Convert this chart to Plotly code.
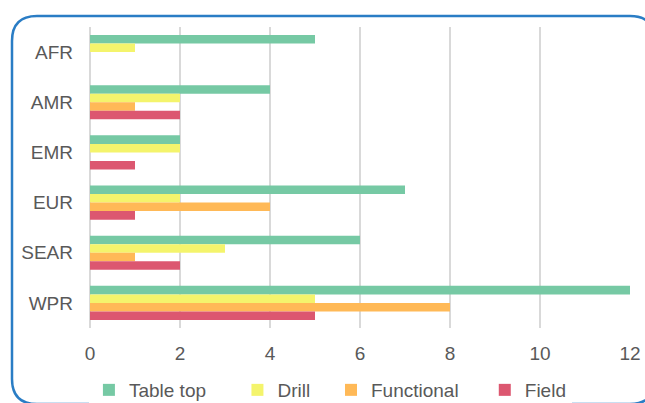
import plotly.graph_objects as go

regions = ["AFR", "AMR", "EMR", "EUR", "SEAR", "WPR"]
series_names = ["Table top", "Drill", "Functional", "Field"]
table_top = [5, 4, 2, 7, 6, 12]
drill = [1, 2, 2, 2, 3, 5]
functional = [0, 1, 0, 4, 1, 8]
field = [0, 2, 1, 1, 2, 5]
x_ticks = [0, 2, 4, 6, 8, 10, 12]

colors = ["#76C9A4", "#F4F46C", "#FFB957", "#DC5770"]
pad = ["\u00a0" * 5, "\u00a0" * 3, "\u00a0" * 4, ""]

W, H = 645, 403
L, R, T, B = 90, 15, 27, 75
pw, ph = W - L - R, H - T - B

fig = go.Figure()
for name, vals, c, p in zip(series_names, [table_top, drill, functional, field], colors, pad):
    fig.add_trace(go.Bar(
        y=regions, x=vals, name=name + p, orientation="h",
        marker=dict(color=c, line=dict(width=0)),
    ))

def px2paper(x, y):
    return (x - L) / pw, (H - B - y) / ph

x0, y0, x1, y1, r = 12, 16, 655, 404, 25
pts = [
    ("M", [(x0 + r, y0)]),
    ("L", [(x1 - r, y0)]),
    ("Q", [(x1, y0), (x1, y0 + r)]),
    ("L", [(x1, y1 - r)]),
    ("Q", [(x1, y1), (x1 - r, y1)]),
    ("L", [(x0 + r, y1)]),
    ("Q", [(x0, y1), (x0, y1 - r)]),
    ("L", [(x0, y0 + r)]),
    ("Q", [(x0, y0), (x0 + r, y0)]),
]
path = ""
for cmd, ps in pts:
    path += cmd + " ".join("%.5f,%.5f" % px2paper(a, b) for a, b in ps) + " "
path += "Z"

fig.update_layout(
    width=W, height=H,
    margin=dict(l=L, r=R, t=T, b=B, autoexpand=False),
    paper_bgcolor="white", plot_bgcolor="white",
    barmode="group", bargap=0.32, bargroupgap=0,
    font=dict(family="Liberation Sans, Arial, sans-serif", size=19, color="#595959"),
    showlegend=True,
    legend=dict(orientation="h", x=-0.002, xanchor="left", y=-0.206, yanchor="middle",
                font=dict(size=19, color="#595959"), traceorder="normal",
                itemwidth=30, tracegroupgap=0),
    shapes=[dict(type="path", xref="paper", yref="paper", path=path,
                 line=dict(color="#2A7DC5", width=2.5), fillcolor="rgba(0,0,0,0)", layer="above")],
)
fig.update_xaxes(range=[0, 12], tickvals=x_ticks, showgrid=True, gridcolor="#D9D9D9",
                 gridwidth=1.5, zeroline=True, zerolinecolor="#D9D9D9", zerolinewidth=1.5,
                 showline=False, ticks="", ticklabelstandoff=12, fixedrange=True,
                 automargin=False)
fig.update_yaxes(autorange="reversed", showgrid=False, showline=False, ticks="",
                 ticklabelstandoff=16, fixedrange=True, automargin=False)

fig.write_html(
    "out.html",
    config={"displayModeBar": False},
    post_script="document.body.style.margin='0';"
                "document.body.style.overflow='hidden';"
                "document.documentElement.style.overflow='hidden';",
)
